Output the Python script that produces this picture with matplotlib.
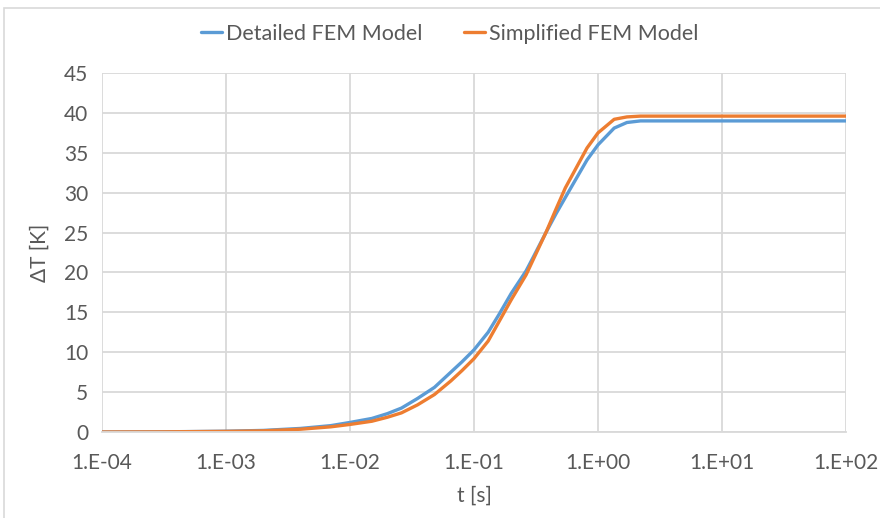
import matplotlib.pyplot as plt
from matplotlib.patches import Rectangle

# values
t = [1e-4, 3e-4, 1e-3, 2e-3, 4e-3, 7e-3, 1e-2, 1.5e-2, 2e-2, 2.6e-2, 3.5e-2,
     4.8e-2, 6.5e-2, 8e-2, 1e-1, 1.3e-1, 1.6e-1, 2e-1, 2.63e-1, 3e-1, 3.8e-1,
     4.6e-1, 5.45e-1, 6.3e-1, 8.15e-1, 1.0, 1.35, 1.71, 2.2, 3.0, 100]
detailed = [0, 0.02, 0.1, 0.2, 0.45, 0.8, 1.2, 1.7, 2.3, 3.0, 4.2,
            5.6, 7.5, 8.8, 10.3, 12.5, 14.8, 17.4, 20.2, 21.9, 25.0,
            27.4, 29.4, 31.1, 34.1, 36.0, 38.1, 38.8, 39.0, 39.0, 39.0]
simplified = [0, 0.02, 0.08, 0.15, 0.35, 0.65, 0.95, 1.35, 1.85, 2.4, 3.4,
              4.7, 6.4, 7.7, 9.2, 11.4, 13.9, 16.6, 19.7, 21.6, 25.0,
              28.0, 30.6, 32.4, 35.6, 37.5, 39.2, 39.5, 39.6, 39.6, 39.6]
xticks = [1e-4, 1e-3, 1e-2, 1e-1, 1e0, 1e1, 1e2]
xlabels = ['1.E-04', '1.E-03', '1.E-02', '1.E-01', '1.E+00', '1.E+01', '1.E+02']
yticks = list(range(0, 46, 5))

plt.rcParams['font.family'] = ['Lato', 'DejaVu Sans']
txt = '#595959'
grid = '#d9d9d9'

fig = plt.figure(figsize=(8.8, 5.18), dpi=100)
ax = fig.add_axes([0.1159, 0.166, 0.8455, 0.693])

ax.plot(t, detailed, color='#5b9bd5', lw=2.4, label='Detailed FEM Model', solid_capstyle='round')
ax.plot(t, simplified, color='#ed7d31', lw=2.4, label='Simplified FEM Model', solid_capstyle='round')

ax.set_xscale('log')
ax.set_xlim(1e-4, 1e2)
ax.set_ylim(0, 45)
ax.set_xticks(xticks)
ax.set_xticklabels(xlabels)
ax.minorticks_off()
ax.set_yticks(yticks)
ax.tick_params(length=0, labelsize=15, colors=txt, pad=10)
ax.tick_params(axis='x', pad=15)
ax.grid(True, color=grid, lw=1.3)
ax.set_axisbelow(True)
for s in ['top', 'left', 'right']:
    ax.spines[s].set_visible(False)
ax.spines['bottom'].set_color(grid)
ax.spines['bottom'].set_linewidth(1.3)

ax.set_xlabel('t [s]', fontsize=15, color=txt, labelpad=9)
ax.set_ylabel('ΔT [K]', fontsize=15, color=txt, labelpad=10)

fig.legend(loc='center', bbox_to_anchor=(0.511, 0.935), ncol=2, frameon=False,
           fontsize=15.5, handlelength=1.0, handletextpad=0.2, columnspacing=1.9,
           labelcolor=txt)

fig.patches.append(Rectangle((4 / 880, -0.05), 2, 1.05 - 8 / 518, transform=fig.transFigure,
                             fill=False, edgecolor='#d9d9d9', lw=1.2))

fig.savefig('out.png', dpi=100)
plt.close(fig)
